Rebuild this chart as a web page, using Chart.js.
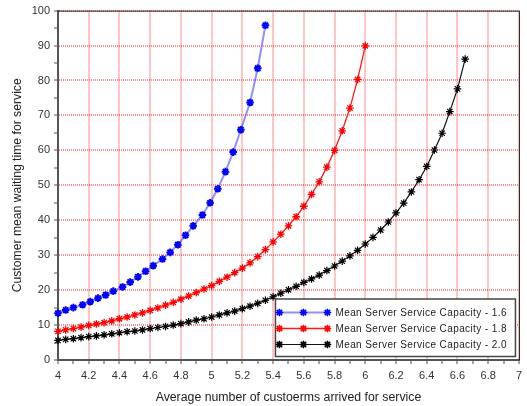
<!DOCTYPE html>
<html>
<head>
<meta charset="utf-8">
<script src="https://cdn.jsdelivr.net/npm/chart.js@4.4.1/dist/chart.umd.min.js"></script>
<style>
  html, body { margin: 0; padding: 0; background: #fff; }
  #wrap { width: 527px; height: 406px; }
</style>
</head>
<body>
<div id="wrap"><canvas id="queueChart" width="527" height="406"></canvas></div>
<script>
// arrival rate (x) for the 1.8 and 2.0 curves, step 0.05
const arrivalRate = [
  4.00, 4.05, 4.10, 4.15, 4.20, 4.25, 4.30, 4.35, 4.40, 4.45,
  4.50, 4.55, 4.60, 4.65, 4.70, 4.75, 4.80, 4.85, 4.90, 4.95,
  5.00, 5.05, 5.10, 5.15, 5.20, 5.25, 5.30, 5.35, 5.40, 5.45,
  5.50, 5.55, 5.60, 5.65, 5.70, 5.75, 5.80, 5.85, 5.90, 5.95,
  6.00, 6.05, 6.10, 6.15, 6.20, 6.25, 6.30, 6.35, 6.40, 6.45,
  6.50, 6.55, 6.60, 6.65
];

// capacity 1.6 has its own x positions
const blueX = [
  4.00, 4.05, 4.10, 4.16, 4.21, 4.26, 4.31, 4.36, 4.42, 4.47,
  4.52, 4.57, 4.62, 4.68, 4.73, 4.78, 4.83, 4.88, 4.94, 4.99,
  5.04, 5.09, 5.14, 5.19, 5.25, 5.30, 5.35
];
const blueY = [
  13.4, 14.3, 15.0, 15.8, 16.7, 17.7, 18.6, 19.7, 20.9, 22.3,
  23.8, 25.4, 27.0, 28.9, 30.8, 33.0, 35.7, 38.4, 41.5, 45.0,
  49.0, 53.9, 59.5, 65.9, 73.7, 83.5, 95.8
];

const redY = [
  8.2, 8.6, 9.0, 9.4, 9.9, 10.3, 10.7, 11.2, 11.8, 12.3,
  12.9, 13.5, 14.2, 14.9, 15.7, 16.5, 17.4, 18.3, 19.3, 20.3,
  21.3, 22.5, 23.7, 25.0, 26.3, 27.8, 29.6, 31.6, 33.8, 36.0,
  38.4, 41.0, 44.0, 47.4, 51.0, 55.2, 60.0, 65.6, 72.1, 80.3,
  89.9
];

const blackY = [
  5.6, 5.9, 6.1, 6.4, 6.7, 6.9, 7.2, 7.5, 7.8, 8.1,
  8.3, 8.6, 9.0, 9.3, 9.6, 10.0, 10.4, 10.9, 11.4, 11.8,
  12.3, 12.9, 13.5, 14.0, 14.7, 15.4, 16.2, 17.1, 18.1, 19.1,
  20.1, 21.1, 22.2, 23.2, 24.3, 25.6, 26.9, 28.3, 29.8, 31.4,
  33.2, 35.1, 37.2, 39.5, 42.1, 44.9, 48.1, 51.6, 55.4, 60.1,
  64.9, 71.1, 77.6, 86.1
];

const seriesLabels = [
  'Mean Server Service Capacity - 1.6',
  'Mean Server Service Capacity - 1.8',
  'Mean Server Service Capacity - 2.0'
];

const xTitle = 'Average number of custoerms arrived for service';
const yTitle = 'Customer mean waiting time for service';

const FONT = '"Liberation Sans", Arial, sans-serif';

function toPoints(xs, ys) {
  return ys.map((y, i) => ({ x: xs[i], y }));
}

function drawStar(ctx, x, y, r) {
  ctx.beginPath();
  for (let k = 0; k < 4; k++) {
    const a = k * Math.PI / 4;
    ctx.moveTo(x - Math.cos(a) * r, y - Math.sin(a) * r);
    ctx.lineTo(x + Math.cos(a) * r, y + Math.sin(a) * r);
  }
  ctx.stroke();
}

// top/right frame lines
const framePlugin = {
  id: 'frame',
  afterDatasetsDraw(chart) {
    const { ctx, chartArea: a } = chart;
    ctx.save();
    ctx.strokeStyle = '#222';
    ctx.lineWidth = 1;
    ctx.beginPath();
    ctx.moveTo(a.left, a.top + 0.5);
    ctx.lineTo(a.right + 0.5, a.top + 0.5);
    ctx.lineTo(a.right + 0.5, a.bottom);
    ctx.stroke();
    ctx.restore();
  }
};

// boxed legend in the lower right corner of the plot
const boxLegend = {
  id: 'boxLegend',
  afterDraw(chart) {
    const { ctx, chartArea: a } = chart;
    const bx = a.right - 243.5, by = a.bottom - 61, bw = 240, bh = 57.5;
    ctx.save();
    ctx.fillStyle = '#fff';
    ctx.fillRect(bx, by, bw, bh);
    ctx.strokeStyle = '#444';
    ctx.lineWidth = 1.5;
    ctx.strokeRect(bx, by, bw, bh);

    chart.data.datasets.forEach((ds, i) => {
      const y = by + 13.5 + i * 16;
      const x0 = bx + 4, x1 = bx + 52;
      ctx.strokeStyle = ds.borderColor;
      ctx.lineWidth = ds.borderWidth;
      ctx.beginPath();
      ctx.moveTo(x0, y);
      ctx.lineTo(x1, y);
      ctx.stroke();
      ctx.strokeStyle = ds.pointBorderColor;
      ctx.lineWidth = 1.6;
      [x0, (x0 + x1) / 2, x1].forEach(px => drawStar(ctx, px, y, 3.8));

      ctx.fillStyle = '#222';
      ctx.font = '10px ' + FONT;
      ctx.letterSpacing = '0.4px';
      ctx.textBaseline = 'middle';
      ctx.fillText(ds.label, bx + 60, y + 0.5);
    });
    ctx.restore();
  }
};

const gridRed = 'rgba(255, 30, 30, 0.5)';

new Chart(document.getElementById('queueChart'), {
  type: 'line',
  data: {
    datasets: [
      {
        label: seriesLabels[0],
        data: toPoints(blueX, blueY),
        borderColor: 'rgba(70, 70, 255, 0.6)',
        borderWidth: 2,
        pointBorderColor: '#0000ff',
        pointBackgroundColor: '#0000ff'
      },
      {
        label: seriesLabels[1],
        data: toPoints(arrivalRate, redY),
        borderColor: '#ff1a1a',
        borderWidth: 1.3,
        pointBorderColor: '#ff0000',
        pointBackgroundColor: '#ff0000'
      },
      {
        label: seriesLabels[2],
        data: toPoints(arrivalRate, blackY),
        borderColor: '#111',
        borderWidth: 1.2,
        pointBorderColor: '#000',
        pointBackgroundColor: '#000'
      }
    ]
  },
  options: {
    responsive: false,
    animation: false,
    events: [],
    layout: { padding: { top: 10, right: 7, left: 0, bottom: 0 } },
    elements: {
      line: { tension: 0, fill: false },
      point: { pointStyle: 'star', radius: 3.8, borderWidth: 1.6 }
    },
    datasets: { line: { clip: false } },
    plugins: {
      legend: { display: false },
      tooltip: { enabled: false }
    },
    scales: {
      x: {
        type: 'linear',
        min: 4,
        max: 7,
        afterFit: s => { s.height = 46; },
        ticks: {
          stepSize: 0.1,
          autoSkip: false,
          maxRotation: 0,
          padding: 5,
          color: '#333',
          font: { family: FONT, size: 11 },
          callback: v => (Math.round(v * 10) % 2 === 0 ? String(Math.round(v * 10) / 10) : '')
        },
        grid: {
          color: c => (Math.round(c.tick.value * 10) % 2 === 0 ? gridRed : 'rgba(0,0,0,0)'),
          lineWidth: 2,
          tickColor: '#555',
          tickLength: 4,
          tickWidth: 1
        },
        border: { display: true, color: '#555', width: 2, dash: [1, 1] },
        title: {
          display: true,
          text: xTitle,
          color: '#222',
          padding: { top: 0, bottom: 1 },
          font: { family: FONT, size: 12.3 }
        }
      },
      y: {
        min: 0,
        max: 100,
        afterFit: s => { s.width = 58; },
        ticks: {
          stepSize: 5,
          autoSkip: false,
          padding: 4,
          color: '#333',
          font: { family: FONT, size: 11 },
          callback: v => (v % 10 === 0 ? String(v) : '')
        },
        grid: {
          color: c => (c.tick.value % 10 === 0 ? gridRed : 'rgba(0,0,0,0)'),
          lineWidth: 2,
          tickColor: '#555',
          tickLength: 4,
          tickWidth: 1
        },
        border: { display: true, color: '#555', width: 2, dash: [1, 1] },
        title: {
          display: true,
          text: yTitle,
          color: '#222',
          padding: { top: 10, bottom: 0 },
          font: { family: FONT, size: 12.2 }
        }
      }
    }
  },
  plugins: [framePlugin, boxLegend]
});
</script>
</body>
</html>
